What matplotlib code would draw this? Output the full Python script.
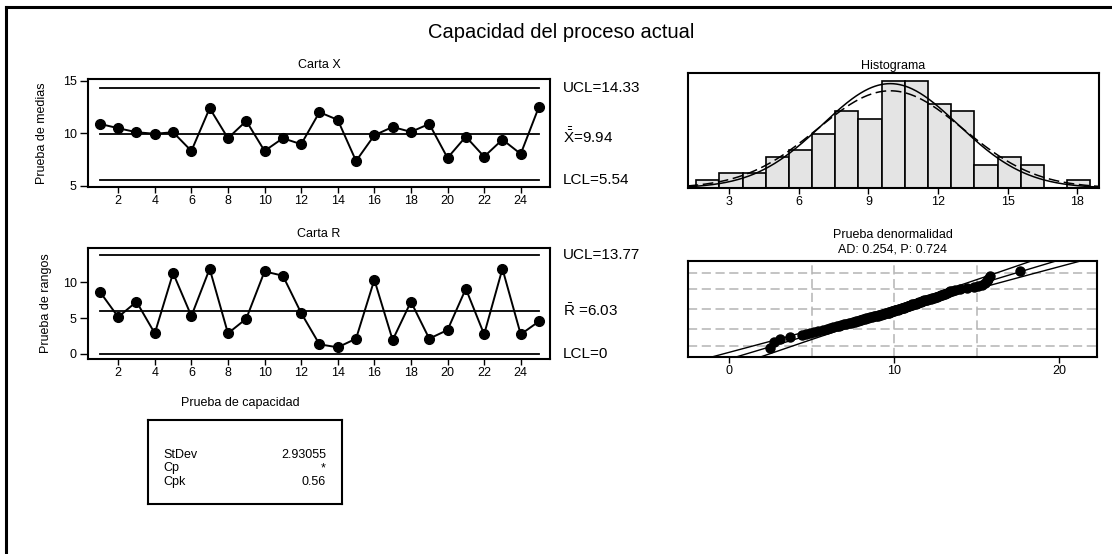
import matplotlib
matplotlib.use('Agg')
import matplotlib.pyplot as plt
import numpy as np
from matplotlib.lines import Line2D
from matplotlib.transforms import blended_transform_factory
from statistics import NormalDist

plt.rcParams['font.family'] = ['Liberation Sans', 'DejaVu Sans']
plt.rcParams['mathtext.fontset'] = 'custom'
plt.rcParams['mathtext.rm'] = 'Liberation Sans'
plt.rcParams['mathtext.it'] = 'Liberation Sans:italic'

# subgroup statistics (25 subgroups of 4)
subgroups = np.arange(1, 26)
xbar = [10.89, 10.48, 10.10, 9.95, 10.10, 8.32, 12.38, 9.53, 11.17, 8.32,
        9.53, 8.96, 12.00, 11.27, 7.37, 9.81, 10.60, 10.13, 10.89, 7.66,
        9.68, 7.78, 9.40, 8.04, 12.53]
ranges = [8.69, 5.16, 7.30, 2.88, 11.30, 5.30, 11.90, 2.88, 4.93, 11.53,
          10.93, 5.72, 1.35, 0.93, 2.14, 10.37, 1.95, 7.30, 2.14, 3.35,
          9.11, 2.74, 11.90, 2.74, 4.56]
xbar_ucl, xbar_cl, xbar_lcl = 14.33, 9.94, 5.54
r_ucl, r_cl, r_lcl = 13.77, 6.03, 0

# individual measurements
measurements = [
    2.45,
    2.70, 3.10,
    3.70, 4.40,
    4.65, 4.90, 5.15, 5.40,
    5.70, 5.90, 6.10, 6.30, 6.50,
    6.65, 6.80, 6.95, 7.10, 7.25, 7.35, 7.50,
    7.60, 7.70, 7.80, 7.90, 8.00, 8.10, 8.20, 8.30, 8.40, 8.50,
    8.65, 8.75, 8.90, 9.00, 9.10, 9.20, 9.30, 9.40, 9.50,
    9.60, 9.65, 9.70, 9.80, 9.85, 9.90, 10.00, 10.05, 10.10, 10.20, 10.30, 10.35, 10.45, 10.50,
    10.60, 10.65, 10.70, 10.80, 10.85, 10.90, 11.00, 11.05, 11.10, 11.20, 11.30, 11.35, 11.45, 11.50,
    11.60, 11.70, 11.75, 11.80, 11.90, 12.00, 12.10, 12.20, 12.30, 12.40, 12.50,
    12.60, 12.70, 12.80, 12.90, 13.00, 13.10, 13.20, 13.30, 13.40, 13.50,
    13.70, 14.00, 14.40,
    14.80, 15.10, 15.30, 15.50,
    15.60, 15.70, 15.80,
    17.60,
]
bin_start, bin_width = 1.57, 1.0
stdev_within = 2.93055
cp_text = '*'
cpk = 0.56
ad_stat, p_value = 0.254, 0.724
prob_grid = [0.01, 0.10, 0.50, 0.90, 0.99]

W, H = 1112, 554
fig = plt.figure(figsize=(W / 100, H / 100), dpi=100)
FS = 9


def px_axes(left, top, right, bottom):
    return fig.add_axes([left / W, 1 - bottom / H, (right - left) / W, (bottom - top) / H])


def style(ax):
    for s in ax.spines.values():
        s.set_linewidth(1.5)
    ax.tick_params(direction='out', width=1, labelsize=FS, pad=2)
    ax.tick_params(axis='x', length=4)
    ax.tick_params(axis='y', length=6)


# frame lines along the top and left edge
fig.add_artist(Line2D([6 / W, 1], [1 - 7 / H, 1 - 7 / H], color='black', lw=2.2))
fig.add_artist(Line2D([6 / W, 6 / W], [0, 1 - 7 / H], color='black', lw=2.2))

fig.text(0.5 * (375 + 748) / W, 1 - 33 / H, 'Capacidad del proceso actual',
         ha='center', va='center', fontsize=14.5)

# X-bar chart
ax1 = px_axes(88, 79, 550, 187)
style(ax1)
for v in (xbar_ucl, xbar_cl, xbar_lcl):
    ax1.plot([subgroups[0], subgroups[-1]], [v, v], color='black', lw=1.3)
ax1.plot(subgroups, xbar, color='black', lw=1.4, marker='o', ms=7)
ax1.set_xlim(0.35, 25.6)
ax1.set_ylim(4.9, 15.15)
ax1.set_xticks(range(2, 25, 2))
ax1.set_yticks([5, 10, 15])
ax1.set_ylabel('Prueba de medias', fontsize=FS, labelpad=11)
ax1.set_title('Carta X', fontsize=FS, pad=8)
tr1 = blended_transform_factory(ax1.transAxes, ax1.transData)
ax1.text(1.028, xbar_ucl, f'UCL={xbar_ucl:.2f}', transform=tr1, va='center', fontsize=11)
ax1.text(1.028, xbar_cl - 0.2, r'$\bar{\bar{\mathrm{X}}}$' + f'={xbar_cl:.2f}', transform=tr1,
         va='center', fontsize=11)
ax1.text(1.028, xbar_lcl, f'LCL={xbar_lcl:.2f}', transform=tr1, va='center', fontsize=11)

# R chart
ax2 = px_axes(88, 248, 550, 359)
style(ax2)
for v in (r_ucl, r_cl, r_lcl):
    ax2.plot([subgroups[0], subgroups[-1]], [v, v], color='black', lw=1.3)
ax2.plot(subgroups, ranges, color='black', lw=1.4, marker='o', ms=7)
ax2.set_xlim(0.35, 25.6)
ax2.set_ylim(-0.7, 14.8)
ax2.set_xticks(range(2, 25, 2))
ax2.set_yticks([0, 5, 10])
ax2.set_ylabel('Prueba de rangos', fontsize=FS, labelpad=8)
ax2.set_title('Carta R', fontsize=FS, pad=8)
tr2 = blended_transform_factory(ax2.transAxes, ax2.transData)
ax2.text(1.028, r_ucl, f'UCL={r_ucl:.2f}', transform=tr2, va='center', fontsize=11)
ax2.text(1.028, r_cl, r'$\bar{\mathrm{R}}$' + f' ={r_cl:.2f}', transform=tr2, va='center', fontsize=11)
ax2.text(1.028, r_lcl, f'LCL={r_lcl}', transform=tr2, va='center', fontsize=11)

# histogram with within / overall normal curves
data = np.array(measurements)
n = len(data)
stdev_overall = data.std(ddof=1)
ax3 = px_axes(688, 73, 1099, 188)
style(ax3)
edges = np.arange(bin_start, data.max() + bin_width, bin_width)
ax3.hist(data, bins=edges, color='#e4e4e4', edgecolor='black', lw=1.2)
xs = np.linspace(1.2, 19, 400)
for sd, ls in ((stdev_within, '-'), (stdev_overall, (0, (7, 3)))):
    pdf = np.array([NormalDist(xbar_cl, sd).pdf(x) for x in xs]) * n * bin_width
    ax3.plot(xs, pdf, color='black', lw=1.1, ls=ls)
ax3.set_xlim(1.22, 18.94)
ax3.set_ylim(0, 15)
ax3.set_xticks(range(3, 19, 3))
ax3.set_yticks([])
ax3.set_title('Histograma', fontsize=FS, pad=3)

# normal probability plot
ax4 = px_axes(688, 261, 1097, 357)
style(ax4)
nd = NormalDist()
sorted_data = np.sort(data)
scores = [nd.inv_cdf((i - 0.3) / (n + 0.4)) for i in range(1, n + 1)]
mu, sigma = data.mean(), stdev_overall
zz = np.linspace(-3.3, 3.3, 200)
fit = mu + sigma * zz
se = sigma * np.sqrt(1 / n + zz ** 2 / (2 * n))
for line in (fit, fit - 1.96 * se, fit + 1.96 * se):
    ax4.plot(line, zz, color='black', lw=1.0)
for x in (5, 10, 15):
    ax4.axvline(x, color='#b4b4b4', lw=1.1, ls=(0, (6, 3)), zorder=0)
for p in prob_grid:
    ax4.axhline(nd.inv_cdf(p), color='#b4b4b4', lw=1.1, ls=(0, (6, 3)), zorder=0)
ax4.plot(sorted_data, scores, 'o', color='black', ms=6.5)
ax4.set_xlim(-2.5, 22.28)
ax4.set_ylim(-3.06, 3.1)
ax4.set_xticks([0, 10, 20])
ax4.set_yticks([])
ax4.set_title(f'Prueba denormalidad\nAD: {ad_stat:.3f}, P: {p_value:.3f}', fontsize=FS,
              pad=6, linespacing=1.3)

# capability summary box
fig.text(240 / W, 1 - 403 / H, 'Prueba de capacidad', ha='center', va='center', fontsize=FS)
ax5 = px_axes(148, 420, 342, 504)
ax5.set_xticks([])
ax5.set_yticks([])
for s in ax5.spines.values():
    s.set_linewidth(1.5)
rows = [('StDev', f'{stdev_within:.5f}'), ('Cp', cp_text), ('Cpk', f'{cpk:.2f}')]
for i, (name, val) in enumerate(rows):
    y = 1 - (455 + 13.5 * i - 420) / 84
    ax5.text(15 / 194, y, name, transform=ax5.transAxes, va='center', fontsize=FS)
    ax5.text(178 / 194, y, val, transform=ax5.transAxes, va='center', ha='right', fontsize=FS)

fig.savefig('out.png', dpi=100)
